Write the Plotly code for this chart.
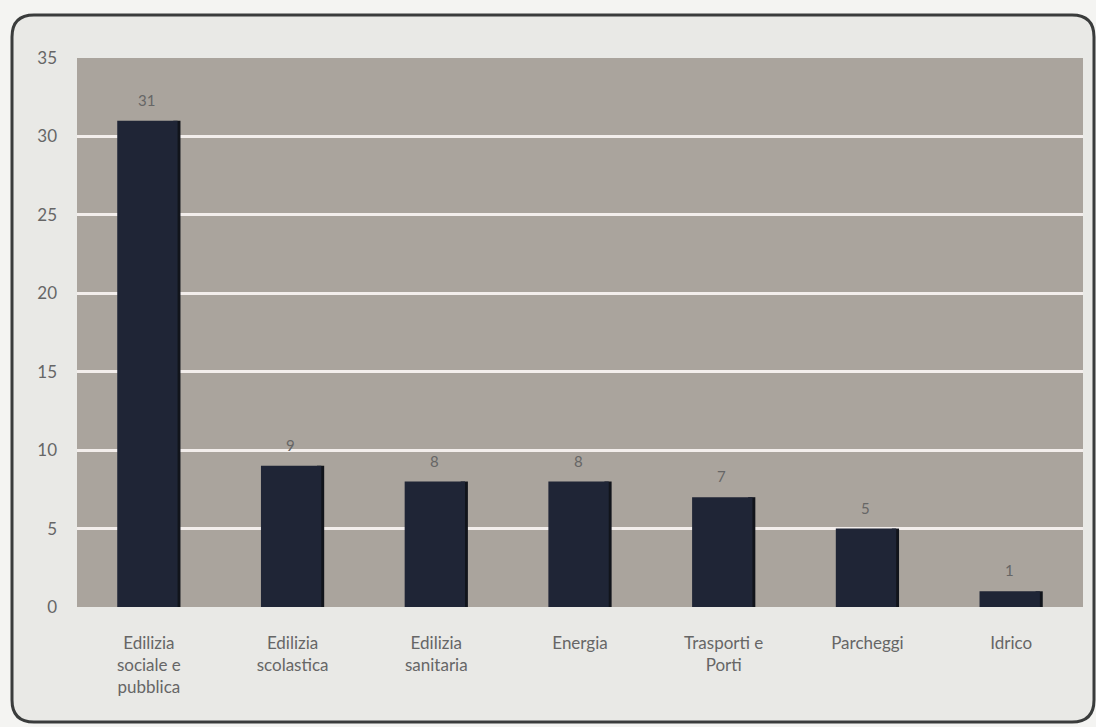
import plotly.graph_objects as go

# Project counts per sector
categories = [
    "Edilizia<br>sociale e<br>pubblica",
    "Edilizia<br>scolastica",
    "Edilizia<br>sanitaria",
    "Energia",
    "Trasporti e<br>Porti",
    "Parcheggi",
    "Idrico",
]
values = [31, 9, 8, 8, 7, 5, 1]
y_ticks = [0, 5, 10, 15, 20, 25, 30, 35]
grid_ticks = [5, 10, 15, 20, 25, 30]

W, H = 1096, 727
ML, MR, MT, MB = 77, 13, 58, 120
pw, ph = W - ML - MR, H - MT - MB
FONT = "Lato, Open Sans, sans-serif"
TXT = "#666666"

def px_x(p):
    return (p - ML) / pw

def px_y(p):
    return (H - MB - p) / ph

fig = go.Figure()

# darker side face to give the bars a shallow 3D look (carries the labelled axis)
fig.add_trace(go.Bar(
    x=categories, y=values, width=0.05, offset=0.17,
    marker=dict(color="#11141b", line=dict(width=0)),
    hoverinfo="skip", yaxis="y",
))
# front face (carries the grid axis)
fig.add_trace(go.Bar(
    x=categories, y=values, width=0.42, offset=-0.22,
    marker=dict(color="#1f2536", line=dict(width=0)),
    yaxis="y2",
))

# value labels above each bar
annotations = [
    dict(x=c, y=v, xref="x", yref="y", text=str(v), showarrow=False,
         xshift=-2, yshift=21, yanchor="middle",
         font=dict(family=FONT, size=15, color=TXT))
    for c, v in zip(categories, values)
]

# rounded outer frame
x0, x1 = px_x(12), px_x(1094)
y0, y1 = px_y(722), px_y(15)
rx, ry = 22 / pw, 22 / ph
frame = (
    f"M {x0 + rx},{y1} L {x1 - rx},{y1} Q {x1},{y1} {x1},{y1 - ry} "
    f"L {x1},{y0 + ry} Q {x1},{y0} {x1 - rx},{y0} "
    f"L {x0 + rx},{y0} Q {x0},{y0} {x0},{y0 + ry} "
    f"L {x0},{y1 - ry} Q {x0},{y1} {x0 + rx},{y1} Z"
)

fig.update_layout(
    width=W, height=H,
    margin=dict(l=ML, r=MR, t=MT, b=MB),
    paper_bgcolor="#f4f4f2",
    plot_bgcolor="#aaa49d",
    showlegend=False,
    barmode="overlay",
    font=dict(family=FONT, color=TXT, size=16),
    annotations=annotations,
    shapes=[
        dict(type="path", path=frame, xref="paper", yref="paper",
             line=dict(color="#3a3c3c", width=3), fillcolor="#e9e9e6", layer="below"),
        dict(type="rect", xref="paper", yref="paper", x0=0, x1=1, y0=0, y1=1,
             line=dict(width=0), fillcolor="#aaa49d", layer="below"),
    ],
    xaxis=dict(
        showgrid=False, zeroline=False, showline=False, ticks="",
        ticklabelstandoff=24,
        tickfont=dict(size=17, color=TXT),
    ),
    yaxis=dict(
        range=[0, 35], tickvals=y_ticks, showgrid=False, zeroline=False,
        showline=False, ticks="", ticklabelstandoff=19,
        tickfont=dict(size=17, color=TXT),
    ),
    yaxis2=dict(
        range=[0, 35], tickvals=grid_ticks, overlaying="y", side="left",
        showticklabels=False, showgrid=True, gridcolor="#f3eeec", gridwidth=3,
        zeroline=False, showline=False, ticks="",
    ),
)

fig.write_html("out.html")
